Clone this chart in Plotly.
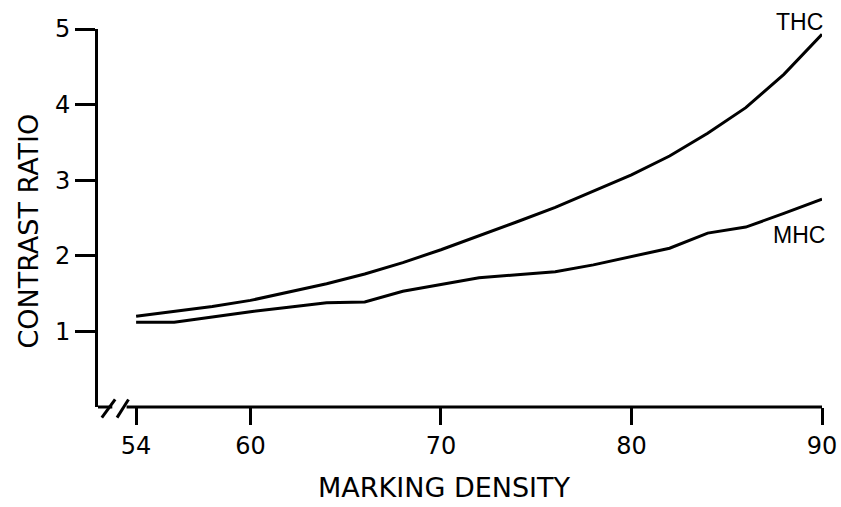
import plotly.graph_objects as go

density = [54, 56, 58, 60, 62, 64, 66, 68, 70, 72, 74, 76, 78, 80, 82, 84, 86, 88, 90]
thc = [1.20, 1.26, 1.33, 1.41, 1.52, 1.63, 1.76, 1.91, 2.08, 2.26, 2.45, 2.64, 2.86, 3.07, 3.32, 3.62, 3.96, 4.40, 4.93]
mhc = [1.12, 1.12, 1.19, 1.26, 1.32, 1.38, 1.39, 1.53, 1.62, 1.71, 1.75, 1.79, 1.88, 1.99, 2.10, 2.30, 2.38, 2.56, 2.75]
x_ticks = [54, 60, 70, 80, 90]
y_ticks = [1, 2, 3, 4, 5]

X_MIN, X_MAX = 52, 90
Y_MIN, Y_MAX = 0, 5

fig = go.Figure()
fig.add_trace(go.Scatter(x=density, y=thc, mode="lines", name="THC",
                         line=dict(color="black", width=3), cliponaxis=False))
fig.add_trace(go.Scatter(x=density, y=mhc, mode="lines", name="MHC",
                         line=dict(color="black", width=3), cliponaxis=False))

tick_font = dict(family="DejaVu Sans", size=24, color="black")
fig.update_xaxes(range=[X_MIN, X_MAX], tickvals=x_ticks, ticktext=[str(v) for v in x_ticks],
                 ticks="outside", ticklen=17, tickwidth=3, tickcolor="black",
                 showline=False, showgrid=False, zeroline=False, tickfont=tick_font,
                 automargin=False)
fig.update_yaxes(range=[Y_MIN, Y_MAX], tickvals=y_ticks, ticktext=[str(v) for v in y_ticks],
                 ticks="outside", ticklen=20, tickwidth=3, tickcolor="black",
                 showline=True, linewidth=3, linecolor="black",
                 showgrid=False, zeroline=False, tickfont=tick_font, automargin=False)


def px(xv):
    return (xv - X_MIN) / (X_MAX - X_MIN)


def py(yv):
    return (yv - Y_MIN) / (Y_MAX - Y_MIN)


axis_line = dict(color="black", width=3)
shapes = [
    dict(type="line", xref="paper", yref="paper", x0=px(52), y0=py(0), x1=px(52.75), y1=py(0), line=axis_line),
    dict(type="line", xref="paper", yref="paper", x0=px(52.2), y0=py(-0.14), x1=px(52.9), y1=py(0.1), line=axis_line),
    dict(type="line", xref="paper", yref="paper", x0=px(53.0), y0=py(-0.14), x1=px(53.6), y1=py(0.1), line=axis_line),
    dict(type="line", xref="paper", yref="paper", x0=px(53.5), y0=py(0), x1=px(90), y1=py(0), line=axis_line),
]

label_font = dict(family="Liberation Sans", size=23, color="black")
title_font = dict(family="DejaVu Sans", size=27, color="black")
annotations = [
    dict(text="THC", x=88.8, y=1, xref="x", yref="paper", yshift=7,
         xanchor="center", yanchor="middle", showarrow=False, font=label_font),
    dict(text="MHC", x=88.8, y=2.28, xref="x", yref="y",
         xanchor="center", yanchor="middle", showarrow=False, font=label_font),
    dict(text="MARKING DENSITY", x=70.2, y=0, xref="x", yref="paper", yshift=-80,
         xanchor="center", yanchor="middle", showarrow=False, font=title_font),
    dict(text="CONTRAST RATIO", x=0, xref="paper", xshift=-69, y=2.32, yref="y",
         xanchor="center", yanchor="middle", textangle=-90, showarrow=False, font=title_font),
]

fig.update_layout(width=841, height=507, margin=dict(l=98, r=19, t=29, b=100),
                  paper_bgcolor="white", plot_bgcolor="white", showlegend=False,
                  shapes=shapes, annotations=annotations)

fig.write_html("out.html", config={"displayModeBar": False},
               post_script="document.body.style.margin='0';document.body.style.overflow='hidden';")
